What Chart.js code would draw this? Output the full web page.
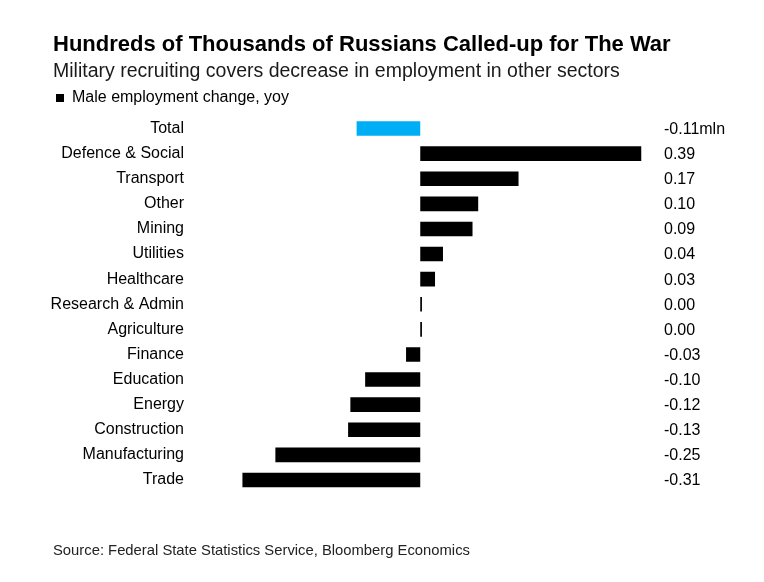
<!DOCTYPE html>
<html>
<head>
<meta charset="utf-8">
<script src="https://cdn.jsdelivr.net/npm/chart.js@4.4.1/dist/chart.umd.min.js"></script>
<style>
  html, body { margin: 0; padding: 0; background: #fff; }
  body { width: 764px; height: 582px; position: relative; overflow: hidden; font-family: "Liberation Sans", Arial, sans-serif; }
  #wrap { position: absolute; left: 0; top: 0; width: 764px; height: 582px; }
  .txt { position: absolute; left: 53px; white-space: nowrap; line-height: 1; color: #000; }
  #title { top: 32.5px; font-size: 22px; font-weight: bold; }
  #subtitle { top: 61px; font-size: 19.5px; color: #1a1a1a; }
  #source { top: 543px; font-size: 14.8px; color: #222; }
</style>
</head>
<body>
<div id="wrap"><canvas id="c" width="764" height="582"></canvas></div>
<div class="txt" id="title">Hundreds of Thousands of Russians Called-up for The War</div>
<div class="txt" id="subtitle">Military recruiting covers decrease in employment in other sectors</div>
<div class="txt" id="source">Source: Federal State Statistics Service, Bloomberg Economics</div>
<script>
const categories = ['Total','Defence & Social','Transport','Other','Mining','Utilities','Healthcare','Research & Admin','Agriculture','Finance','Education','Energy','Construction','Manufacturing','Trade'];
const changes = [-0.112, 0.389, 0.173, 0.102, 0.092, 0.040, 0.026, 0.003, 0.003, -0.025, -0.097, -0.123, -0.127, -0.255, -0.313];
const valueLabels = ['-0.11mln','0.39','0.17','0.10','0.09','0.04','0.03','0.00','0.00','-0.03','-0.10','-0.12','-0.13','-0.25','-0.31'];
const seriesName = 'Male employment change, yoy';

const barColors = categories.map((c, i) => i === 0 ? '#00aef5' : '#000000');

const valueLabelPlugin = {
  id: 'valueLabels',
  afterDatasetsDraw(chart) {
    const ctx = chart.ctx;
    const meta = chart.getDatasetMeta(0);
    ctx.save();
    ctx.font = '16px "Liberation Sans", Arial, sans-serif';
    ctx.fillStyle = '#000';
    ctx.textAlign = 'left';
    ctx.textBaseline = 'middle';
    meta.data.forEach((bar, i) => {
      ctx.fillText(valueLabels[i], chart.chartArea.right + 16.5, bar.y + 1);
    });
    ctx.restore();
  }
};

new Chart(document.getElementById('c'), {
  type: 'bar',
  data: {
    labels: categories,
    datasets: [{
      label: seriesName,
      data: changes,
      backgroundColor: barColors,
      borderWidth: 0,
      barPercentage: 0.58,
      categoryPercentage: 1
    }]
  },
  options: {
    indexAxis: 'y',
    responsive: false,
    animation: false,
    layout: { padding: { left: 45, right: 116.5, top: 79, bottom: 89.5 } },
    plugins: {
      tooltip: { enabled: false },
      legend: {
        display: true,
        position: 'top',
        align: 'start',
        labels: {
          boxWidth: 8,
          boxHeight: 8,
          padding: 11,
          color: '#000',
          font: { size: 16, family: '"Liberation Sans", Arial, sans-serif' },
          generateLabels: (chart) => [{
            text: seriesName,
            fillStyle: '#000',
            strokeStyle: '#000',
            lineWidth: 0,
            hidden: false,
            datasetIndex: 0
          }]
        },
        onClick: () => {}
      }
    },
    scales: {
      x: {
        display: false,
        min: -0.4,
        max: 0.4
      },
      y: {
        grid: { display: false, drawTicks: false },
        border: { display: false },
        ticks: {
          padding: 9,
          color: '#000',
          font: { size: 16, family: '"Liberation Sans", Arial, sans-serif' }
        },
        afterFit(axis) { axis.width = 148; }
      }
    }
  },
  plugins: [valueLabelPlugin]
});
</script>
</body>
</html>
